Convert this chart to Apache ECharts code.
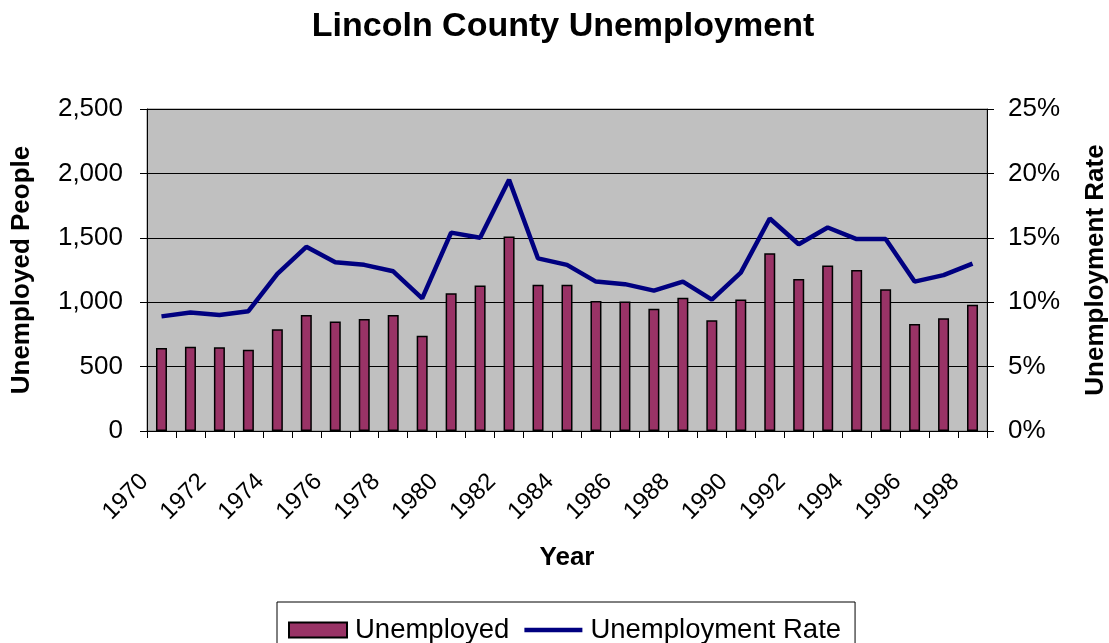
<!DOCTYPE html>
<html>
<head>
<meta charset="utf-8">
<title>Lincoln County Unemployment</title>
<script src="https://cdn.jsdelivr.net/npm/echarts@6/dist/echarts.min.js"></script>
<style>
  html, body { margin: 0; padding: 0; background: #ffffff; }
  #chart { width: 1109px; height: 643px; }
</style>
</head>
<body>
<div id="chart"></div>
<script>
// Years on the category axis
const years = ['1970','1971','1972','1973','1974','1975','1976','1977','1978','1979',
               '1980','1981','1982','1983','1984','1985','1986','1987','1988','1989',
               '1990','1991','1992','1993','1994','1995','1996','1997','1998'];

// Number of unemployed people per year
const unemployed = [645, 655, 650, 630, 790, 900, 850, 870, 900, 740,
                    1070, 1130, 1510, 1135, 1135, 1010, 1005, 950, 1035, 860,
                    1020, 1380, 1180, 1285, 1250, 1100, 830, 875, 980];

// Unemployment rate per year, in percent
const unemploymentRate = [8.9, 9.2, 9.0, 9.3, 12.2, 14.3, 13.1, 12.9, 12.4, 10.3,
                          15.4, 15.0, 19.5, 13.4, 12.9, 11.6, 11.4, 10.9, 11.6, 10.2,
                          12.3, 16.5, 14.5, 15.8, 14.9, 14.9, 11.6, 12.1, 13.0];

const FONT = "'Liberation Sans', Arial, sans-serif";
const RATE_COLOR = '#000080';

const chart = echarts.init(document.getElementById('chart'), null, { renderer: 'canvas' });

chart.setOption({
  animation: false,
  backgroundColor: '#ffffff',
  textStyle: { fontFamily: FONT, color: '#000' },
  title: {
    text: 'Lincoln County Unemployment',
    left: 558,
    textAlign: 'center',
    top: 5,
    textStyle: { fontFamily: FONT, fontSize: 34, fontWeight: 'bold', color: '#000' }
  },
  legend: {
    left: 277,
    top: 602,
    padding: [14, 14, 20, 11],
    borderColor: '#000',
    borderWidth: 1,
    itemWidth: 58,
    itemHeight: 15,
    itemGap: 15,
    textStyle: { fontFamily: FONT, fontSize: 27.5, color: '#000', padding: [0, 0, 0, 3] },
    data: [
      { name: 'Unemployed', icon: 'rect' },
      {
        name: 'Unemployment Rate',
        // plain thick stroke for the rate line
        icon: 'path://M0,0 L58,0 L58,4.5 L0,4.5 Z',
        itemStyle: { color: RATE_COLOR, borderWidth: 0 }
      }
    ]
  },
  grid: {
    left: 147,
    right: 122,
    top: 109,
    bottom: 212,
    outerBoundsMode: 'none',
    show: true,
    backgroundColor: '#C0C0C0',
    borderColor: '#808080',
    borderWidth: 1
  },
  xAxis: {
    type: 'category',
    data: years,
    boundaryGap: true,
    name: 'Year',
    nameLocation: 'middle',
    nameGap: 114,
    nameTextStyle: { fontFamily: FONT, fontSize: 26, fontWeight: 'bold', color: '#000' },
    axisLine: { show: true, lineStyle: { color: '#000', width: 1 } },
    axisTick: { show: true, interval: 0, length: 7, lineStyle: { color: '#000' } },
    axisLabel: {
      interval: 1,
      rotate: 45,
      margin: 30,
      padding: [0, 24, 0, 0],
      fontFamily: FONT,
      fontSize: 24,
      color: '#000'
    },
    splitLine: { show: false }
  },
  yAxis: [
    {
      type: 'value',
      min: 0,
      max: 2500,
      interval: 500,
      position: 'left',
      name: 'Unemployed People',
      nameLocation: 'middle',
      nameGap: 112,
      nameTextStyle: { fontFamily: FONT, fontSize: 26, fontWeight: 'bold', color: '#000' },
      axisLine: { show: true, lineStyle: { color: '#000', width: 1 } },
      axisTick: { show: true, length: 7, lineStyle: { color: '#000' } },
      axisLabel: {
        margin: 24,
        padding: [8, 0, 0, 0],
        fontFamily: FONT,
        fontSize: 26,
        color: '#000',
        formatter: v => v.toLocaleString('en-US')
      },
      splitLine: { show: true, lineStyle: { color: '#000', width: 1 } }
    },
    {
      type: 'value',
      min: 0,
      max: 25,
      interval: 5,
      position: 'right',
      name: 'Unemployment Rate',
      nameLocation: 'middle',
      nameRotate: 90,
      nameGap: 96,
      nameTextStyle: { fontFamily: FONT, fontSize: 26, fontWeight: 'bold', color: '#000' },
      axisLine: { show: true, lineStyle: { color: '#000', width: 1 } },
      axisTick: { show: true, length: 7, lineStyle: { color: '#000' } },
      axisLabel: {
        margin: 21,
        padding: [8, 0, 0, 0],
        fontFamily: FONT,
        fontSize: 26,
        color: '#000',
        formatter: '{value}%'
      },
      splitLine: { show: false }
    }
  ],
  series: [
    {
      name: 'Unemployed',
      type: 'bar',
      yAxisIndex: 0,
      data: unemployed,
      barWidth: 11,
      itemStyle: { color: '#993366', borderColor: '#000', borderWidth: 1.5 }
    },
    {
      name: 'Unemployment Rate',
      type: 'line',
      yAxisIndex: 1,
      data: unemploymentRate,
      symbol: 'none',
      lineStyle: { color: RATE_COLOR, width: 4.5 },
      itemStyle: { color: RATE_COLOR }
    }
  ]
});
</script>
</body>
</html>
